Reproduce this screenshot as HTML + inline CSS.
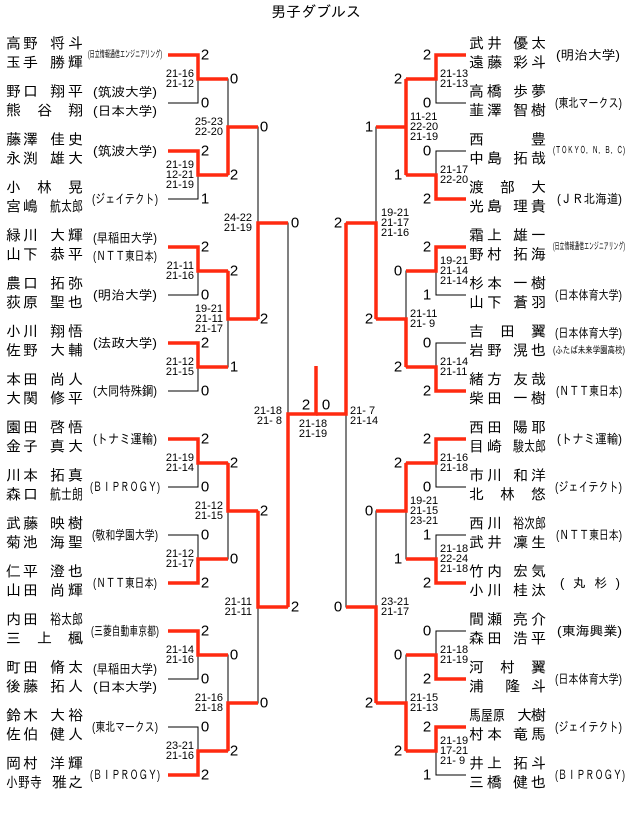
<!DOCTYPE html>
<html><head><meta charset="utf-8"><style>
html,body{margin:0;padding:0;background:#fff;}
svg{display:block;font-family:"Liberation Sans","IPAGothic","Noto Sans CJK JP",sans-serif;}
.nm{font-size:15px;fill:#000;}
.af{font-size:13px;fill:#000;}
.sm{font-size:10px;fill:#000;}
.sc{font-size:15px;fill:#000;}
.ms{font-size:11px;fill:#000;}
</style></head><body>
<svg width="630" height="813" viewBox="0 0 630 813" xmlns="http://www.w3.org/2000/svg">
<text x="316" y="17" text-anchor="middle" style="font-size:15px">男子ダブルス</text>

<!-- black structure -->
<g stroke="#000" stroke-width="1" fill="none" shape-rendering="crispEdges">
<!-- left r1 -->
<path d="M168 55H198V103H168M168 151H198V199H168M168 247H198V295H168M168 343H198V391H168M168 439H198V487H168M168 535H198V583H168M168 631H198V679H168M168 727H198V775H168"/>
<path d="M198 79H228V175H198M198 271H228V367H198M198 463H228V559H198M198 655H228V751H198"/>
<path d="M228 127H258V319H228M228 511H258V703H228"/>
<path d="M258 223H288V607H258"/>
<path d="M288 414H346"/>
<!-- right -->
<path d="M466 55H436V103H466M466 151H436V199H466M466 247H436V295H466M466 343H436V391H466M466 439H436V487H466M466 535H436V583H466M466 631H436V679H466M466 727H436V775H466"/>
<path d="M436 79H406V175H436M436 271H406V367H436M436 463H406V559H436M436 655H406V751H436"/>
<path d="M406 127H376V319H406M406 511H376V703H406"/>
<path d="M376 223H346V607H376"/>
</g>

<!-- red paths -->
<g stroke="#ff2a10" stroke-width="3.5" fill="none" stroke-linejoin="miter">
<path d="M168 55H198V79H228"/>
<path d="M168 151H198V175H228"/>
<path d="M168 247H198V271H228"/>
<path d="M168 343H198V367H228"/>
<path d="M168 439H198V463H228"/>
<path d="M168 583H198V559H228"/>
<path d="M168 631H198V655H228"/>
<path d="M168 775H198V751H228"/>
<path d="M228 175V127H258"/>
<path d="M228 271V319H258"/>
<path d="M228 463V511H258"/>
<path d="M228 751V703H258"/>
<path d="M258 319V223H288"/>
<path d="M258 511V607H288"/>
<path d="M288 607V414H316V366"/>
<path d="M466 55H436V79H406"/>
<path d="M466 199H436V175H406"/>
<path d="M466 247H436V271H406"/>
<path d="M466 391H436V367H406"/>
<path d="M466 439H436V463H406"/>
<path d="M466 583H436V559H406"/>
<path d="M466 679H436V655H406"/>
<path d="M466 727H436V751H406"/>
<path d="M406 79V175M406 127H376"/>
<path d="M406 367V319H376"/>
<path d="M406 463V511H376"/>
<path d="M406 751V703H376"/>
<path d="M376 319V223H346"/>
<path d="M376 703V607H346"/>
<path d="M346 223V414H316"/>
</g>

<!-- left names -->
<g class="nm" dominant-baseline="central">
<text x="6" y="44" textLength="32">高野</text><text x="50" y="44" textLength="33">将斗</text>
<text x="6" y="63" textLength="32">玉手</text><text x="50" y="63" textLength="33">勝輝</text>
<text x="6" y="92" textLength="32">野口</text><text x="50" y="92" textLength="33">翔平</text>
<text x="6" y="111" textLength="77">熊谷翔</text>
<text x="6" y="140" textLength="32">藤澤</text><text x="50" y="140" textLength="33">佳史</text>
<text x="6" y="159" textLength="32">永渕</text><text x="50" y="159" textLength="33">雄大</text>
<text x="6" y="188" textLength="77">小林晃</text>
<text x="6" y="207" textLength="32">宮嶋</text><text x="50" y="207" textLength="33" lengthAdjust="spacingAndGlyphs">航太郎</text>
<text x="6" y="236" textLength="32">緑川</text><text x="50" y="236" textLength="33">大輝</text>
<text x="6" y="255" textLength="32">山下</text><text x="50" y="255" textLength="33">恭平</text>
<text x="6" y="284" textLength="32">農口</text><text x="50" y="284" textLength="33">拓弥</text>
<text x="6" y="303" textLength="32">荻原</text><text x="50" y="303" textLength="33">聖也</text>
<text x="6" y="332" textLength="32">小川</text><text x="50" y="332" textLength="33">翔悟</text>
<text x="6" y="351" textLength="32">佐野</text><text x="50" y="351" textLength="33">大輔</text>
<text x="6" y="380" textLength="32">本田</text><text x="50" y="380" textLength="33">尚人</text>
<text x="6" y="399" textLength="32">大関</text><text x="50" y="399" textLength="33">修平</text>
<text x="6" y="428" textLength="32">園田</text><text x="50" y="428" textLength="33">啓悟</text>
<text x="6" y="447" textLength="32">金子</text><text x="50" y="447" textLength="33">真大</text>
<text x="6" y="476" textLength="32">川本</text><text x="50" y="476" textLength="33">拓真</text>
<text x="6" y="495" textLength="32">森口</text><text x="50" y="495" textLength="33" lengthAdjust="spacingAndGlyphs">航士朗</text>
<text x="6" y="524" textLength="32">武藤</text><text x="50" y="524" textLength="33">映樹</text>
<text x="6" y="543" textLength="32">菊池</text><text x="50" y="543" textLength="33">海聖</text>
<text x="6" y="572" textLength="32">仁平</text><text x="50" y="572" textLength="33">澄也</text>
<text x="6" y="591" textLength="32">山田</text><text x="50" y="591" textLength="33">尚輝</text>
<text x="6" y="620" textLength="32">内田</text><text x="50" y="620" textLength="33" lengthAdjust="spacingAndGlyphs">裕太郎</text>
<text x="6" y="639" textLength="77">三上楓</text>
<text x="6" y="668" textLength="32">町田</text><text x="50" y="668" textLength="33">脩太</text>
<text x="6" y="687" textLength="32">後藤</text><text x="50" y="687" textLength="33">拓人</text>
<text x="6" y="716" textLength="32">鈴木</text><text x="50" y="716" textLength="33">大裕</text>
<text x="6" y="735" textLength="32">佐伯</text><text x="50" y="735" textLength="33">健人</text>
<text x="6" y="764" textLength="32">岡村</text><text x="50" y="764" textLength="33">洋輝</text>
<text x="6" y="783" textLength="36" lengthAdjust="spacingAndGlyphs">小野寺</text><text x="52" y="783" textLength="31">雅之</text>
</g>

<!-- right names -->
<g class="nm" dominant-baseline="central">
<text x="469" y="44" textLength="33">武井</text><text x="513" y="44" textLength="33">優太</text>
<text x="469" y="63" textLength="33">遠藤</text><text x="513" y="63" textLength="33">彩斗</text>
<text x="469" y="92" textLength="33">高橋</text><text x="513" y="92" textLength="33">歩夢</text>
<text x="469" y="111" textLength="33">韮澤</text><text x="513" y="111" textLength="33">智樹</text>
<text x="469" y="140" textLength="77">西豊</text>
<text x="469" y="159" textLength="33">中島</text><text x="513" y="159" textLength="33">拓哉</text>
<text x="469" y="188" textLength="77">渡部大</text>
<text x="469" y="207" textLength="33">光島</text><text x="513" y="207" textLength="33">理貴</text>
<text x="469" y="236" textLength="33">霜上</text><text x="513" y="236" textLength="33">雄一</text>
<text x="469" y="255" textLength="33">野村</text><text x="513" y="255" textLength="33">拓海</text>
<text x="469" y="284" textLength="33">杉本</text><text x="513" y="284" textLength="33">一樹</text>
<text x="469" y="303" textLength="33">山下</text><text x="513" y="303" textLength="33">蒼羽</text>
<text x="469" y="332" textLength="77">吉田翼</text>
<text x="469" y="351" textLength="33">岩野</text><text x="513" y="351" textLength="33">滉也</text>
<text x="469" y="380" textLength="33">緒方</text><text x="513" y="380" textLength="33">友哉</text>
<text x="469" y="399" textLength="33">柴田</text><text x="513" y="399" textLength="33">一樹</text>
<text x="469" y="428" textLength="33">西田</text><text x="513" y="428" textLength="33">陽耶</text>
<text x="469" y="447" textLength="33">目崎</text><text x="513" y="447" textLength="33" lengthAdjust="spacingAndGlyphs">駿太郎</text>
<text x="469" y="476" textLength="33">市川</text><text x="513" y="476" textLength="33">和洋</text>
<text x="469" y="495" textLength="77">北林悠</text>
<text x="469" y="524" textLength="33">西川</text><text x="513" y="524" textLength="33" lengthAdjust="spacingAndGlyphs">裕次郎</text>
<text x="469" y="543" textLength="33">武井</text><text x="513" y="543" textLength="33">凜生</text>
<text x="469" y="572" textLength="33">竹内</text><text x="513" y="572" textLength="33">宏気</text>
<text x="469" y="591" textLength="33">小川</text><text x="513" y="591" textLength="33">桂汰</text>
<text x="469" y="620" textLength="33">間瀬</text><text x="513" y="620" textLength="33">亮介</text>
<text x="469" y="639" textLength="33">森田</text><text x="513" y="639" textLength="33">浩平</text>
<text x="469" y="668" textLength="77">河村翼</text>
<text x="469" y="687">浦</text><text x="505" y="687" textLength="41">隆斗</text>
<text x="469" y="716" textLength="36" lengthAdjust="spacingAndGlyphs">馬屋原</text><text x="517" y="716" textLength="29">大樹</text>
<text x="469" y="735" textLength="33">村本</text><text x="513" y="735" textLength="33">竜馬</text>
<text x="469" y="764" textLength="33">井上</text><text x="513" y="764" textLength="33">拓斗</text>
<text x="469" y="783" textLength="33">三橋</text><text x="513" y="783" textLength="33">健也</text>
</g>

<!-- left affiliations -->
<g class="af" dominant-baseline="central" lengthAdjust="spacingAndGlyphs">
<text class="sm" x="88" y="55" textLength="74" lengthAdjust="spacingAndGlyphs">(日立情報通信エンジニアリング)</text>
<text x="93" y="92" textLength="64" lengthAdjust="spacingAndGlyphs">(筑波大学)</text>
<text x="93" y="111" textLength="64" lengthAdjust="spacingAndGlyphs">(日本大学)</text>
<text x="93" y="151" textLength="64" lengthAdjust="spacingAndGlyphs">(筑波大学)</text>
<text x="92" y="199" textLength="66" lengthAdjust="spacingAndGlyphs">(ジェイテクト)</text>
<text x="93" y="238" textLength="64" lengthAdjust="spacingAndGlyphs">(早稲田大学)</text>
<text x="93" y="256" textLength="64" lengthAdjust="spacingAndGlyphs">(ＮＴＴ東日本)</text>
<text x="93" y="295" textLength="64" lengthAdjust="spacingAndGlyphs">(明治大学)</text>
<text x="93" y="343" textLength="64" lengthAdjust="spacingAndGlyphs">(法政大学)</text>
<text x="93" y="391" textLength="64" lengthAdjust="spacingAndGlyphs">(大同特殊鋼)</text>
<text x="93" y="439" textLength="64" lengthAdjust="spacingAndGlyphs">(トナミ運輸)</text>
<text x="90" y="487" textLength="70" lengthAdjust="spacingAndGlyphs">(ＢＩＰＲＯＧＹ)</text>
<text x="92" y="535" textLength="66" lengthAdjust="spacingAndGlyphs">(敬和学園大学)</text>
<text x="93" y="583" textLength="64" lengthAdjust="spacingAndGlyphs">(ＮＴＴ東日本)</text>
<text x="91" y="631" textLength="68" lengthAdjust="spacingAndGlyphs">(三菱自動車京都)</text>
<text x="93" y="669" textLength="64" lengthAdjust="spacingAndGlyphs">(早稲田大学)</text>
<text x="93" y="687" textLength="64" lengthAdjust="spacingAndGlyphs">(日本大学)</text>
<text x="92" y="727" textLength="66" lengthAdjust="spacingAndGlyphs">(東北マークス)</text>
<text x="90" y="775" textLength="70" lengthAdjust="spacingAndGlyphs">(ＢＩＰＲＯＧＹ)</text>
</g>

<!-- right affiliations -->
<g class="af" dominant-baseline="central">
<text x="556" y="55" textLength="64" lengthAdjust="spacingAndGlyphs">(明治大学)</text>
<text x="555" y="103" textLength="67" lengthAdjust="spacingAndGlyphs">(東北マークス)</text>
<text class="sm" x="553" y="151" textLength="72" lengthAdjust="spacingAndGlyphs">(ＴＯＫＹＯ．Ｎ．Ｂ．Ｃ)</text>
<text x="557" y="199" textLength="65" lengthAdjust="spacingAndGlyphs">(ＪＲ北海道)</text>
<text class="sm" x="553" y="247" textLength="72" lengthAdjust="spacingAndGlyphs">(日立情報通信エンジニアリング)</text>
<text x="555" y="295" textLength="67" lengthAdjust="spacingAndGlyphs">(日本体育大学)</text>
<text x="555" y="333" textLength="67" lengthAdjust="spacingAndGlyphs">(日本体育大学)</text>
<text class="sm" x="553" y="351" textLength="72" lengthAdjust="spacingAndGlyphs">(ふたば未来学園高校)</text>
<text x="556" y="391" textLength="66" lengthAdjust="spacingAndGlyphs">(ＮＴＴ東日本)</text>
<text x="557" y="439" textLength="65" lengthAdjust="spacingAndGlyphs">(トナミ運輸)</text>
<text x="555" y="487" textLength="67" lengthAdjust="spacingAndGlyphs">(ジェイテクト)</text>
<text x="556" y="535" textLength="66" lengthAdjust="spacingAndGlyphs">(ＮＴＴ東日本)</text>
<text x="560" y="583" textLength="60" lengthAdjust="spacing">( 丸 杉 )</text>
<text x="557" y="631" textLength="65" lengthAdjust="spacingAndGlyphs">(東海興業)</text>
<text x="555" y="679" textLength="67" lengthAdjust="spacingAndGlyphs">(日本体育大学)</text>
<text x="555" y="727" textLength="67" lengthAdjust="spacingAndGlyphs">(ジェイテクト)</text>
<text x="555" y="775" textLength="70" lengthAdjust="spacingAndGlyphs">(ＢＩＰＲＯＧＹ)</text>
</g>

<!-- scores -->
<g class="sc" text-anchor="middle" dominant-baseline="central">
<text x="205" y="55">2</text><text x="205" y="103">0</text>
<text x="205" y="151">2</text><text x="205" y="199">1</text>
<text x="205" y="247">2</text><text x="205" y="295">0</text>
<text x="205" y="343">2</text><text x="205" y="391">0</text>
<text x="205" y="439">2</text><text x="205" y="487">0</text>
<text x="205" y="535">0</text><text x="205" y="583">2</text>
<text x="205" y="631">2</text><text x="205" y="679">0</text>
<text x="205" y="727">0</text><text x="205" y="775">2</text>
<text x="234" y="79">0</text><text x="234" y="175">2</text>
<text x="234" y="271">2</text><text x="234" y="367">1</text>
<text x="234" y="463">2</text><text x="234" y="559">0</text>
<text x="234" y="655">0</text><text x="234" y="751">2</text>
<text x="264" y="127">0</text><text x="264" y="319">2</text>
<text x="264" y="511">2</text><text x="264" y="703">0</text>
<text x="295" y="223">0</text><text x="295" y="607">2</text>
<text x="306" y="405">2</text><text x="326" y="405">0</text>
<text x="427" y="55">2</text><text x="427" y="103">0</text>
<text x="427" y="151">0</text><text x="427" y="199">2</text>
<text x="427" y="247">2</text><text x="427" y="295">1</text>
<text x="427" y="343">0</text><text x="427" y="391">2</text>
<text x="427" y="439">2</text><text x="427" y="487">0</text>
<text x="427" y="535">1</text><text x="427" y="583">2</text>
<text x="427" y="631">0</text><text x="427" y="679">2</text>
<text x="427" y="727">2</text><text x="427" y="775">1</text>
<text x="398" y="79">2</text><text x="398" y="175">1</text>
<text x="398" y="271">0</text><text x="398" y="367">2</text>
<text x="398" y="463">2</text><text x="398" y="559">1</text>
<text x="398" y="655">0</text><text x="398" y="751">2</text>
<text x="369" y="127">1</text><text x="369" y="319">2</text>
<text x="369" y="511">0</text><text x="369" y="703">2</text>
<text x="338" y="223">2</text><text x="338" y="607">0</text>
</g>

<!-- match scores left (end-anchored) -->
<g class="ms" text-anchor="end" dominant-baseline="central">
<text x="194" y="74">21-16</text><text x="194" y="84">21-12</text>
<text x="194" y="165">21-19</text><text x="194" y="175">12-21</text><text x="194" y="185">21-19</text>
<text x="194" y="266">21-11</text><text x="194" y="276">21-16</text>
<text x="194" y="362">21-12</text><text x="194" y="372">21-15</text>
<text x="194" y="458">21-19</text><text x="194" y="468">21-14</text>
<text x="194" y="554">21-12</text><text x="194" y="564">21-17</text>
<text x="194" y="650">21-14</text><text x="194" y="660">21-16</text>
<text x="194" y="746">23-21</text><text x="194" y="756">21-16</text>
<text x="223" y="122">25-23</text><text x="223" y="132">22-20</text>
<text x="223" y="309">19-21</text><text x="223" y="319">21-11</text><text x="223" y="329">21-17</text>
<text x="223" y="506">21-12</text><text x="223" y="516">21-15</text>
<text x="223" y="698">21-16</text><text x="223" y="708">21-18</text>
<text x="252" y="218">24-22</text><text x="252" y="228">21-19</text>
<text x="252" y="602">21-11</text><text x="252" y="612">21-11</text>
<text x="282" y="411">21-18</text><text x="282" y="421">21- 8</text>
</g>
<g class="ms" text-anchor="middle" dominant-baseline="central">
<text x="313" y="424">21-18</text><text x="313" y="434">21-19</text>
</g>
<!-- match scores right -->
<g class="ms" text-anchor="start" dominant-baseline="central">
<text x="350" y="411">21- 7</text><text x="350" y="421">21-14</text>
<text x="381" y="213">19-21</text><text x="381" y="223">21-17</text><text x="381" y="233">21-16</text>
<text x="381" y="602">23-21</text><text x="381" y="612">21-17</text>
<text x="410" y="117">11-21</text><text x="410" y="127">22-20</text><text x="410" y="137">21-19</text>
<text x="410" y="314">21-11</text><text x="410" y="324">21- 9</text>
<text x="410" y="501">19-21</text><text x="410" y="511">21-15</text><text x="410" y="521">23-21</text>
<text x="410" y="698">21-15</text><text x="410" y="708">21-13</text>
<text x="440" y="74">21-13</text><text x="440" y="84">21-13</text>
<text x="440" y="170">21-17</text><text x="440" y="180">22-20</text>
<text x="440" y="261">19-21</text><text x="440" y="271">21-14</text><text x="440" y="281">21-14</text>
<text x="440" y="362">21-14</text><text x="440" y="372">21-11</text>
<text x="440" y="458">21-16</text><text x="440" y="468">21-18</text>
<text x="440" y="549">21-18</text><text x="440" y="559">22-24</text><text x="440" y="569">21-18</text>
<text x="440" y="650">21-18</text><text x="440" y="660">21-19</text>
<text x="440" y="741">21-19</text><text x="440" y="751">17-21</text><text x="440" y="761">21- 9</text>
</g>
</svg>
</body></html>
